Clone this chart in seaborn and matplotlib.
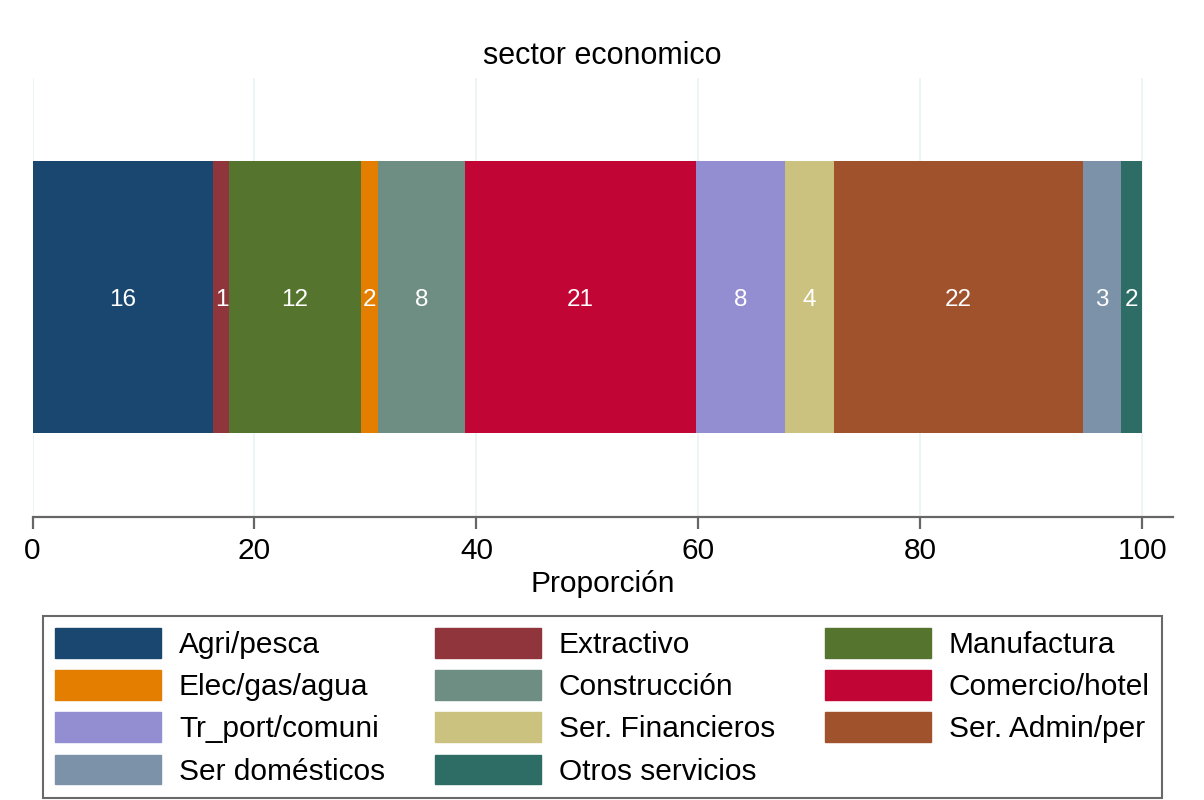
import numpy as np
import pandas as pd
import matplotlib
matplotlib.use("Agg")
import matplotlib.pyplot as plt
from matplotlib.patches import Patch
import seaborn as sns

# datos: proporcion por sector economico
sectores = ['Agri/pesca', 'Extractivo', 'Manufactura', 'Elec/gas/agua', 'Construcción',
            'Comercio/hotel', 'Tr_port/comuni', 'Ser. Financieros', 'Ser. Admin/per',
            'Ser domésticos', 'Otros servicios']
proporcion = [16.3, 1.45, 11.83, 1.59, 7.77, 20.85, 8.05, 4.35, 22.45, 3.42, 1.94]
colores = ['#1a476f', '#90353b', '#55752f', '#e37e00', '#6e8e84', '#c10534',
           '#938dd2', '#cac27e', '#a0522d', '#7b92a8', '#2d6d66']
ticks_x = [0, 20, 40, 60, 80, 100]

df = pd.DataFrame({'sector': sectores, 'prop': proporcion, 'color': colores})
df['acum'] = df['prop'].cumsum()
df['centro'] = df['acum'] - df['prop'] / 2
df['grupo'] = ''

sns.set_style('white')
plt.rcParams['font.family'] = ['Liberation Sans', 'DejaVu Sans']
plt.rcParams['text.color'] = 'black'
plt.rcParams['xtick.labelcolor'] = 'black'
plt.rcParams['axes.labelcolor'] = 'black'

fig = plt.figure(figsize=(12.04, 8), dpi=100)
ax = fig.add_axes([0.027, 0.354, 0.947, 0.5485])

# barras apiladas: acumulados del mayor al menor
for i in range(len(df) - 1, -1, -1):
    fila = df.iloc[[i]]
    sns.barplot(data=fila, x='acum', y='grupo', color=fila['color'].iloc[0],
                orient='h', width=0.62, ax=ax, saturation=1, linewidth=0)

for _, r in df.iterrows():
    ax.text(r['centro'], 0, '%.0f' % r['prop'], color='white', ha='center',
            va='center_baseline', fontsize=17.5)

ax.set_xlim(0, 102.75)
ax.set_ylim(0.5, -0.5)
ax.set_xticks(ticks_x)
ax.set_xticklabels([str(t) for t in ticks_x], fontsize=21.5, color='black')
ax.set_yticks([])
ax.set_ylabel('')
ax.set_xlabel('Proporción', fontsize=21.5, labelpad=4, color='black')
ax.set_title('sector economico', fontsize=22, pad=10, color='black')
ax.grid(axis='x', color='#eaf2f3', linewidth=1.2)
ax.set_axisbelow(True)
for s in ['top', 'left', 'right']:
    ax.spines[s].set_visible(False)
ax.spines['bottom'].set_color('#666666')
ax.spines['bottom'].set_linewidth(1.6)
ax.tick_params(axis='x', bottom=True, length=8.6, width=1.6, color='#666666', pad=5.8)

# leyenda en filas (orden por fila)
handles = [Patch(facecolor=c, edgecolor=c) for c in colores]
orden = [0, 3, 6, 9, 1, 4, 7, 10, 2, 5, 8]
leg = fig.legend([handles[i] for i in orden], [sectores[i] for i in orden],
                 ncol=3, loc='lower left', bbox_to_anchor=(0.0355, 0.003, 0.9295, 0.226),
                 mode='expand', borderaxespad=0, fontsize=21.5, handlelength=3.56,
                 handleheight=1.15, labelspacing=0.38, handletextpad=0.6, borderpad=0.4,
                 fancybox=False, frameon=True, edgecolor='#444444')
leg.get_frame().set_linewidth(1.5)
for t in leg.get_texts():
    t.set_color('black')

fig.savefig('out.png', dpi=100, facecolor='white')
